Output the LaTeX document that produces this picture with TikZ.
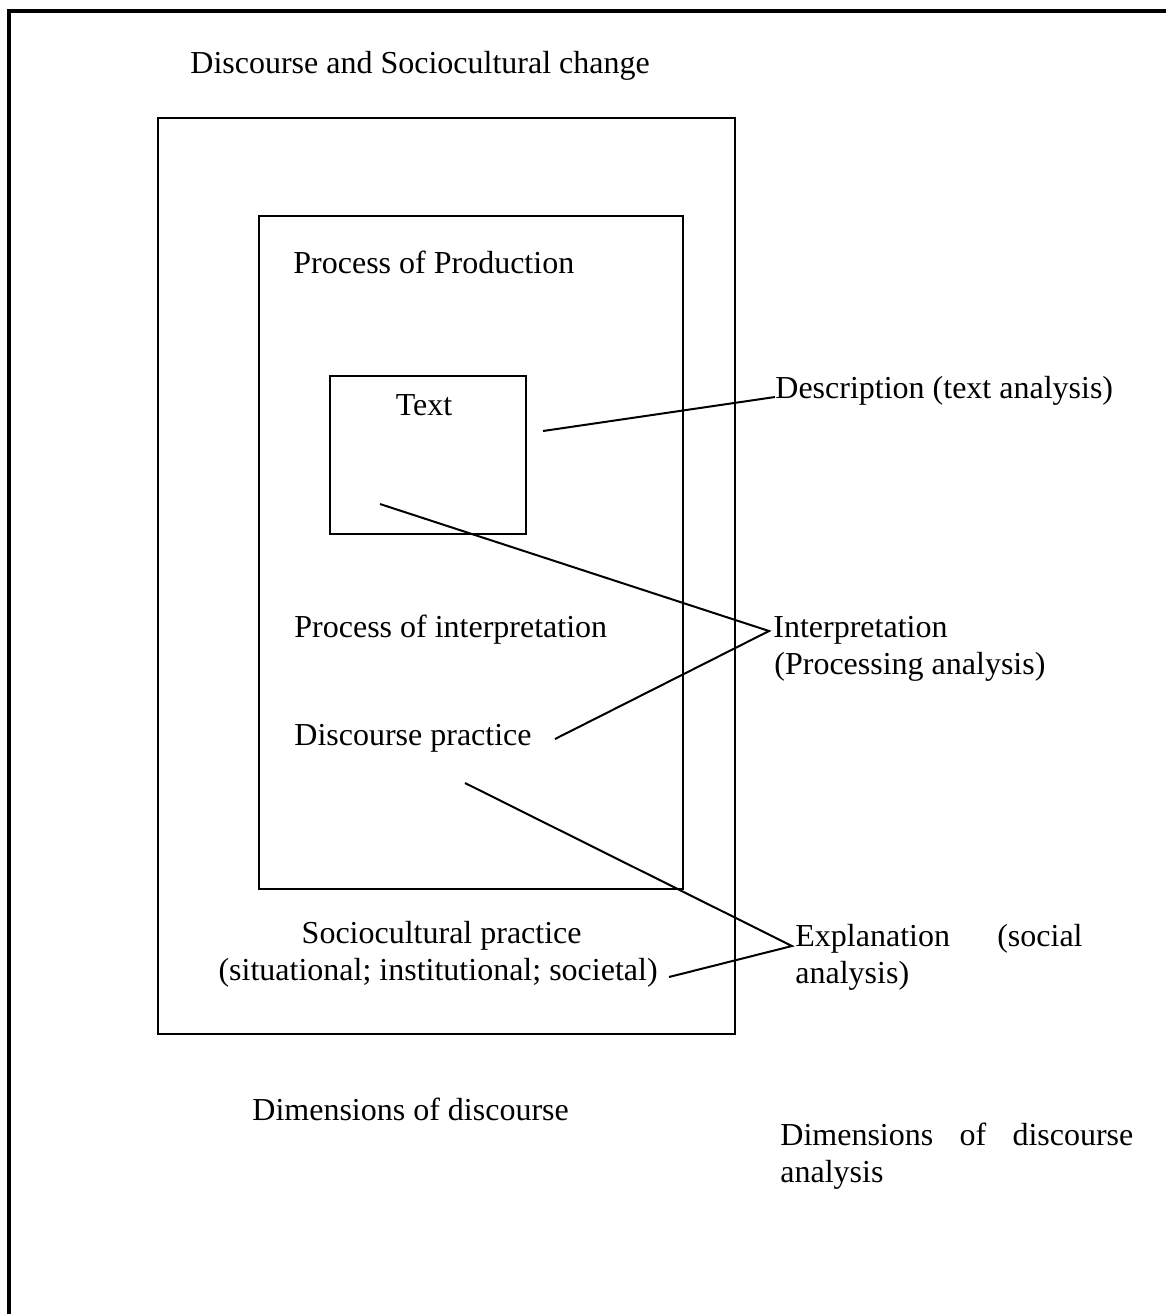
\documentclass[tikz,border=0pt]{standalone}
\usepackage{fontspec}
\setmainfont{Liberation Serif}
\begin{document}
\begin{tikzpicture}[x=0.5pt,y=-0.5pt,
  lbl/.style={inner sep=0pt,anchor=base west,font=\fontsize{16}{18.5}\selectfont},
  box/.style={draw,line width=1pt,inner sep=0pt,anchor=north west},
  conn/.style={draw,line width=1pt}]
\useasboundingbox (0,0) rectangle (1166,1314);
% outer frame (cropped)
\draw[line width=1.6pt] (1166,11) -- (9,11) -- (9,1314);
% boxes
\node[box,minimum width=288.5pt,minimum height=458pt] (outer) at (157,117) {};
\node[box,minimum width=212pt,minimum height=336.5pt] (mid) at (258,215) {};
\node[box,minimum width=98pt,minimum height=79pt] (textbox) at (329,375) {};
% labels
\node[lbl] (title) at (190,73) {Discourse and Sociocultural change};
\node[lbl] (prod) at (293,273) {Process of Production};
\node[lbl,anchor=base] (text) at (424,415) {Text};
\node[lbl] (interp) at (294,637) {Process of interpretation};
\node[lbl] (dp) at (294,745) {Discourse practice};
\node[lbl,anchor=base east] (sp1) at (582,943) {Sociocultural practice};
\node[lbl,anchor=base east] (sp2) at (658,980) {(situational; institutional; societal)};
\node[lbl] (desc) at (775,398) {Description (text analysis)};
\node[lbl] (int1) at (773,637) {Interpretation};
\node[lbl] (int2) at (774,674) {(Processing analysis)};
\node[lbl] (expA) at (795,946) {Explanation};
\node[lbl,anchor=base east] (expB) at (1083,946) {(social};
\node[lbl] (exp2) at (795,983) {analysis)};
\node[lbl] (dimL) at (252,1120) {Dimensions of discourse};
\node[lbl] (dimR1) at (780,1145) {\hbox to 176.5pt{Dimensions\hfill of\hfill discourse}};
\node[lbl] (dimR2) at (780,1182) {analysis};
% connector end points
\coordinate (dS) at (543,431);
\coordinate (dE) at (775,397);
\coordinate (iA) at (769,631);
\coordinate (iT) at (380,504);
\coordinate (iD) at (555,739);
\coordinate (eA) at (792,946);
\coordinate (eD) at (465,783);
\coordinate (eS) at (669,977);
% connectors
\draw[conn] (dS) -- (dE);
\draw[conn] (iT) -- (iA) -- (iD);
\draw[conn] (eD) -- (eA) -- (eS);
\end{tikzpicture}
\end{document}
